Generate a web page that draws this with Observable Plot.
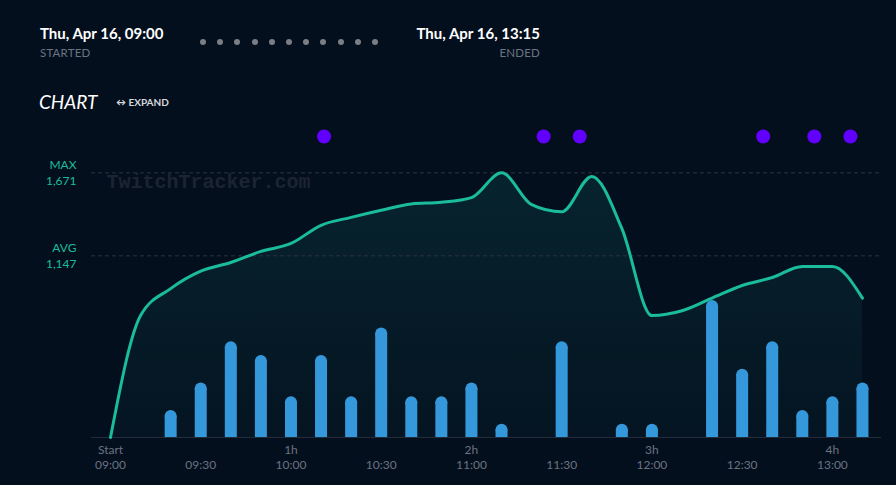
<!DOCTYPE html>
<html>
<head>
<meta charset="utf-8">
<script src="https://cdn.jsdelivr.net/npm/d3@7"></script>
<script src="https://cdn.jsdelivr.net/npm/@observablehq/plot@0.6"></script>
<style>
  html, body { margin: 0; padding: 0; background: #040f1e; }
  body { width: 896px; height: 485px; overflow: hidden; position: relative; font-family: Lato, "Open Sans", sans-serif; }
  #header { position: relative; height: 115px; }
  .abs { position: absolute; white-space: nowrap; line-height: 1; }
  .date { font-weight: 700; font-size: 15px; color: #ffffff; letter-spacing: 0px; }
  .lbl { font-size: 11.5px; color: #6b7482; letter-spacing: 0.2px; }
  #dots { position: absolute; left: 200px; top: 39px; display: flex; gap: 11.2px; }
  #dots span { width: 6px; height: 6px; border-radius: 50%; background: #7a7f87; display: block; }
  #chartTitle { font-style: italic; font-size: 19px; color: #ffffff; }
  #expand { font-size: 10px; font-weight: 700; color: #d5d9df; }
  #plot { position: absolute; left: 0; top: 115px; }
</style>
</head>
<body>
<div id="header">
  <div class="abs date" style="left:40px; top:26px;">Thu, Apr 16, 09:00</div>
  <div class="abs lbl" style="left:40px; top:47px;">STARTED</div>
  <div id="dots"></div>
  <div class="abs date" style="right:356px; top:26px;">Thu, Apr 16, 13:15</div>
  <div class="abs lbl" style="right:356px; top:47px;">ENDED</div>
  <div id="chartTitle" class="abs" style="left:39px; top:92px;">CHART</div>
  <div id="expand" class="abs" style="left:116px; top:97px;">↔ EXPAND</div>
</div>
<div id="plot"></div>
<script>
// ---- data ----
const viewerTimes = ["09:00","09:10","09:20","09:30","09:40","09:50","10:00","10:10","10:20","10:30","10:40","10:50","11:00","11:10","11:20","11:30","11:40","11:50","12:00","12:10","12:20","12:30","12:40","12:50","13:00","13:10"];
const viewers = [0, 770, 940, 1050, 1105, 1175, 1225, 1340, 1390, 1435, 1475, 1485, 1515, 1671, 1470, 1425, 1648, 1320, 770, 800, 880, 960, 1010, 1080, 1080, 880];

const barTimes = ["09:20","09:30","09:40","09:50","10:00","10:10","10:20","10:30","10:40","10:50","11:00","11:10","11:30","11:50","12:00","12:20","12:30","12:40","12:50","13:00","13:10"];
const barCounts = [2, 4, 7, 6, 3, 6, 3, 8, 3, 3, 4, 1, 7, 1, 1, 10, 5, 7, 2, 3, 4];

const eventTimes = ["10:11","11:24","11:36","12:37","12:54","13:06"];

const MAX_VIEWERS = 1671;
const AVG_VIEWERS = 1147;
const maxLabel = "MAX\n1,671";
const avgLabel = "AVG\n1,147";

const hourTicks = ["09:00","10:00","11:00","12:00","13:00"];
const hourLabels = ["Start","1h","2h","3h","4h"];
const timeTicks = ["09:00","09:30","10:00","10:30","11:00","11:30","12:00","12:30","13:00"];

const streamStart = "09:00";
const streamEnd = "13:15";
// secondary (hidden) axis for the bars: viewers-scale units per bar count
const BAR_UNIT = 86.8;

// ---- build tables ----
const t = s => { const [h, m] = s.split(":").map(Number); return new Date(Date.UTC(2020, 3, 16, h, m)); };
const lineData = viewerTimes.map((s, i) => ({time: t(s), viewers: viewers[i]}));
const barData = barTimes.map((s, i) => ({time: t(s), count: barCounts[i]}));
const eventData = eventTimes.map(s => ({time: t(s)}));
const hourData = hourTicks.map((s, i) => ({time: t(s), label: hourLabels[i]}));
const tickData = timeTicks.map(s => ({time: t(s), label: s}));

// header dots
const dotsDiv = document.getElementById("dots");
for (let i = 0; i < 11; i++) dotsDiv.appendChild(document.createElement("span"));

const TEAL = "#1abc9c";
const BLUE = "#3498db";
const PURPLE = "#6200ff";
const GREY = "#6b7380";

const gradient = () => {
  const defs = d3.create("svg:defs");
  const g = defs.append("linearGradient").attr("id", "areaGrad").attr("x1", 0).attr("y1", 0).attr("x2", 0).attr("y2", 1);
  g.append("stop").attr("offset", "0%").attr("stop-color", TEAL).attr("stop-opacity", 0.12);
  g.append("stop").attr("offset", "100%").attr("stop-color", TEAL).attr("stop-opacity", 0.03);
  return defs.node();
};

const chart = Plot.plot({
  width: 896,
  height: 370,
  marginTop: 10,
  marginBottom: 48,
  marginLeft: 91,
  marginRight: 15,
  style: {background: "transparent", fontFamily: "Lato, 'Open Sans', sans-serif", overflow: "visible"},
  x: {type: "utc", domain: [t(streamStart), t(streamEnd)], insetLeft: 19, insetRight: 4, axis: null},
  y: {domain: [0, 1970], axis: null},
  marks: [
    gradient,
    Plot.areaY(lineData, {x: "time", y: "viewers", curve: "monotone-x", fill: "url(#areaGrad)"}),
    Plot.ruleY([MAX_VIEWERS, AVG_VIEWERS], {stroke: "#2a3440", strokeWidth: 1, strokeDasharray: "4,3"}),
    Plot.text(["TwitchTracker.com"], {frameAnchor: "top-left", dx: 15, dy: 56, text: d => d, textAnchor: "start", lineAnchor: "middle", fontFamily: "'Liberation Mono', monospace", fontWeight: "bold", fontSize: 20, fill: "#1c2431"}),
    // bars: square shaft + round cap
    Plot.ruleX(barData, {x: "time", y1: d => d.count * BAR_UNIT, y2: 0, stroke: BLUE, strokeWidth: 12, insetTop: 6}),
    Plot.dot(barData, {x: "time", y: d => d.count * BAR_UNIT, r: 6, fill: BLUE, dy: 6}),
    Plot.ruleY([0], {stroke: "#222c3a", strokeWidth: 1}),
    Plot.line(lineData, {x: "time", y: "viewers", curve: "monotone-x", stroke: TEAL, strokeWidth: 3}),
    Plot.dot(eventData, {x: "time", frameAnchor: "top", dy: 11, r: 7, fill: PURPLE}),
    Plot.text([{y: MAX_VIEWERS, label: maxLabel}, {y: AVG_VIEWERS, label: avgLabel}], {y: "y", text: "label", frameAnchor: "left", dx: -15, dy: -1, textAnchor: "end", lineAnchor: "middle", lineHeight: 1.3, fontSize: 12, fill: TEAL}),
    Plot.text(hourData, {x: "time", text: "label", frameAnchor: "bottom", dy: 13, lineAnchor: "middle", fontSize: 12, fill: GREY}),
    Plot.text(tickData, {x: "time", text: "label", frameAnchor: "bottom", dy: 28, lineAnchor: "middle", fontSize: 12, fill: GREY})
  ]
});
document.getElementById("plot").appendChild(chart);
</script>
</body>
</html>
